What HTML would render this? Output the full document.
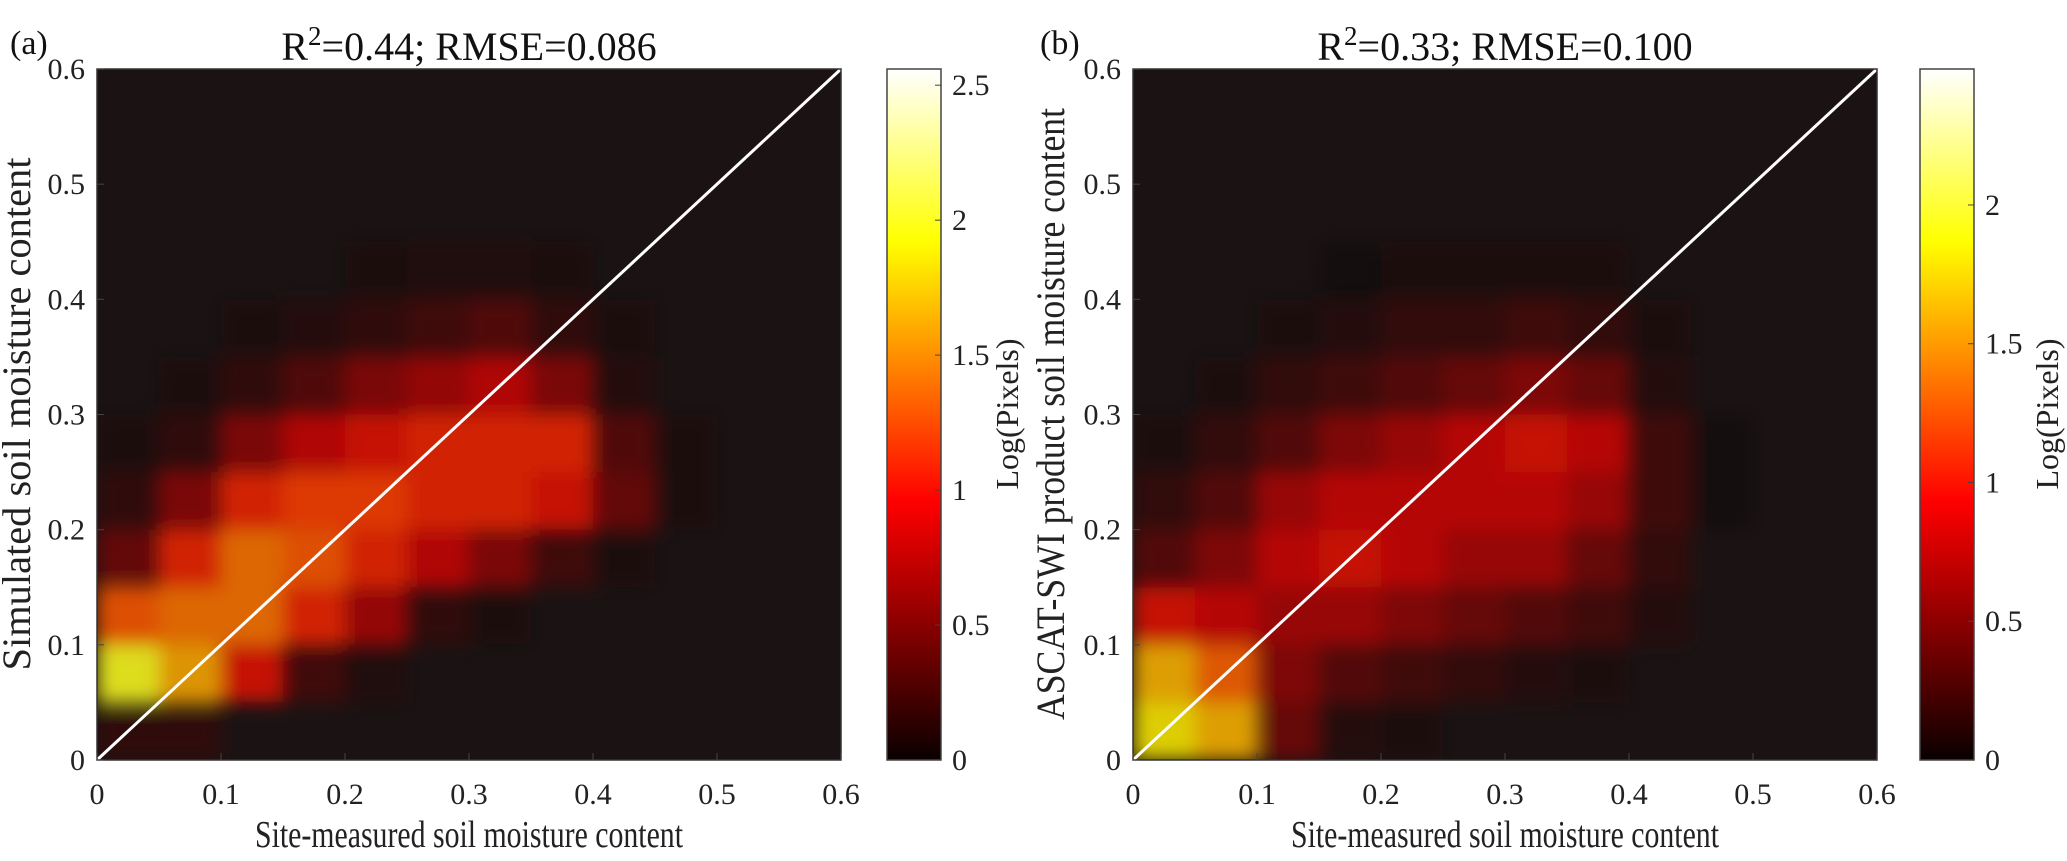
<!DOCTYPE html>
<html><head><meta charset="utf-8"><style>
html,body{margin:0;padding:0;background:#fff;}
svg{display:block;font-family:"Liberation Serif",serif;}
</style></head><body>
<svg id="fig" width="2067" height="861" viewBox="0 0 2067 861" xmlns="http://www.w3.org/2000/svg">
<defs>
<linearGradient id="hotGrad" x1="0" y1="1" x2="0" y2="0">
<stop offset="0" stop-color="#0a0000"/><stop offset="0.375" stop-color="#ff0000"/><stop offset="0.75" stop-color="#ffff00"/><stop offset="1" stop-color="#ffffff"/>
</linearGradient>
<filter id="soft" x="-5%" y="-5%" width="110%" height="110%"><feGaussianBlur stdDeviation="9"/></filter>
<clipPath id="clipA"><rect x="97" y="69" width="744" height="691"/></clipPath>
<clipPath id="clipB"><rect x="1133" y="69" width="744" height="691"/></clipPath>
</defs>
</svg>
<script>
// Density grid (log pixel appearance), rows = y bins of 0.05 from 0, cols = x bins of 0.05 from 0
const binSize = 0.05;
const densityA = [
 [0.3,0.3,0,0,0,0,0,0,0,0,0,0],
 [2.0,1.6,1.0,0.4,0.15,0,0,0,0,0,0,0],
 [1.3,1.4,1.4,1.1,0.8,0.3,0.1,0,0,0,0,0],
 [0.6,1.1,1.4,1.3,1.1,0.9,0.7,0.4,0.1,0,0,0],
 [0.3,0.7,1.1,1.2,1.2,1.1,1.1,1.0,0.6,0.1,0,0],
 [0.1,0.3,0.7,0.9,1.0,1.1,1.1,1.1,0.5,0.1,0,0],
 [0,0.1,0.3,0.5,0.7,0.8,0.9,0.7,0.2,0,0,0],
 [0,0,0.1,0.2,0.3,0.4,0.5,0.3,0.1,0,0,0],
 [0,0,0,0,0.1,0.15,0.15,0.1,0,0,0,0],
 [0,0,0,0,0,0,0,0,0,0,0,0],
 [0,0,0,0,0,0,0,0,0,0,0,0],
 [0,0,0,0,0,0,0,0,0,0,0,0]
];
const densityB = [
 [1.8,1.6,0.6,0.2,0.1,0,0,0,0,0,0,0],
 [1.6,1.3,0.7,0.5,0.4,0.3,0.2,0.1,0,0,0,0],
 [1.0,0.9,0.8,0.8,0.7,0.6,0.5,0.4,0.2,0,0,0],
 [0.5,0.7,0.9,1.0,0.9,0.8,0.8,0.6,0.3,0,0,0],
 [0.3,0.5,0.8,0.9,0.9,0.9,0.9,0.8,0.4,0.05,0,0],
 [0.1,0.3,0.5,0.7,0.8,0.9,1.0,0.9,0.4,0.05,0,0],
 [0,0.1,0.3,0.4,0.5,0.6,0.7,0.6,0.2,0,0,0],
 [0,0,0.1,0.2,0.3,0.3,0.4,0.3,0.1,0,0,0],
 [0,0,0,0.05,0.1,0.1,0.1,0.1,0,0,0,0],
 [0,0,0,0,0,0,0,0,0,0,0,0],
 [0,0,0,0,0,0,0,0,0,0,0,0],
 [0,0,0,0,0,0,0,0,0,0,0,0]
];
const axisTicks = [0,0.1,0.2,0.3,0.4,0.5,0.6];
const axisTickLabels = ["0","0.1","0.2","0.3","0.4","0.5","0.6"];
const cbTicksA = [0,0.5,1,1.5,2,2.5];
const cbTickLabelsA = ["0","0.5","1","1.5","2","2.5"];
const cbTicksB = [0,0.5,1,1.5,2];
const cbTickLabelsB = ["0","0.5","1","1.5","2"];
const cmaxA = 2.56, cmaxB = 2.49;

const NS = "http://www.w3.org/2000/svg";
const svg = document.getElementById('fig');
function mk(tag, attrs, parent){ const e=document.createElementNS(NS,tag); for(const k in attrs) e.setAttribute(k,attrs[k]); (parent||svg).appendChild(e); return e; }
function hot(t){ t=Math.max(0,Math.min(1,t)); const c=v=>Math.round(255*Math.max(0,Math.min(1,v)));
  return `rgb(${Math.max(c(t/0.375),20)},${c((t-0.375)/0.375)},${c((t-0.75)/0.25)})`; }

function panel(o){
  const L=o.left, R=o.left+744, T=69, B=760;
  const sx=v=>L+(v/0.6)*(R-L), sy=v=>B-(v/0.6)*(B-T);
  const g=mk('g',{});  
  const bg=mk('rect',{x:L,y:T,width:R-L,height:B-T,fill:'#1b1313'},g);
   
  const hm=mk('g',{'clip-path':`url(#${o.clip})`},g);
   
  const inner=mk('g',{filter:'url(#soft)'},hm);
  o.data.forEach((row,i)=>row.forEach((v,j)=>{ if(v<=0) return;
    const x0=j*binSize, y0=i*binSize;
    const r=mk('rect',{x:sx(x0),y:sy(y0+binSize),width:sx(x0+binSize)-sx(x0),height:sy(y0)-sy(y0+binSize),fill:hot(v/o.cmax),opacity:Math.min(0.85,0.25+v/2)},inner);
     
  }));
  const dl=mk('line',{x1:sx(0),y1:sy(0),x2:sx(0.6),y2:sy(0.6),stroke:'#fff','stroke-width':3},g);
   
  const fr=mk('rect',{x:L,y:T,width:R-L,height:B-T,fill:'none',stroke:'#333','stroke-width':1.5},g);
   
  axisTicks.forEach((t,k)=>{
    mk('line',{x1:sx(t),y1:B,x2:sx(t),y2:B-7,stroke:'#444','stroke-width':1},g);
    mk('line',{x1:L,y1:sy(t),x2:L+7,y2:sy(t),stroke:'#444','stroke-width':1},g);
    const xl=mk('text',{x:sx(t),y:804,'font-size':30,'text-anchor':'middle',fill:'#222'},g); xl.textContent=axisTickLabels[k];
     
    const yl=mk('text',{x:L-12,y:sy(t)+10,'font-size':30,'text-anchor':'end',fill:'#222'},g); yl.textContent=axisTickLabels[k];
     
  });
  const xt=mk('text',{x:(L+R)/2,y:847,'font-size':38,'text-anchor':'middle',fill:'#222',textLength:428,lengthAdjust:'spacingAndGlyphs'},g); xt.textContent='Site-measured soil moisture content';
   
  const yt=mk('text',{x:0,y:0,'font-size':40,'text-anchor':'middle',fill:'#222',textLength:o.ylabLen,lengthAdjust:'spacingAndGlyphs',transform:`translate(${o.ylabX},414) rotate(-90)`},g); yt.textContent=o.ylabel;
   
  const tt=mk('text',{x:(L+R)/2,y:60,'font-size':40,'text-anchor':'middle',fill:'#111'},g);
  tt.innerHTML=`R<tspan dy="-15" font-size="27">2</tspan><tspan dy="15">=${o.title}</tspan>`;
   
  const pl=mk('text',{x:o.tagX,y:54,'font-size':34,fill:'#111'},g); pl.textContent=o.tag;
   
  // colorbar
  const cx=o.cbX, cw=54;
  const cb=mk('rect',{x:cx,y:T,width:cw,height:B-T,fill:'url(#hotGrad)',stroke:'#444','stroke-width':1.5},g);
   
  const cy=v=>B-(v/o.cmax)*(B-T);
  o.cbTicks.forEach((t,k)=>{
    mk('line',{x1:cx+cw,y1:cy(t),x2:cx+cw-6,y2:cy(t),stroke:'#444','stroke-width':1},g);
    const l=mk('text',{x:cx+cw+11,y:cy(t)+10,'font-size':30,fill:'#222'},g); l.textContent=o.cbLabels[k];
     
  });
  const ct=mk('text',{x:0,y:0,'font-size':32,'text-anchor':'middle',fill:'#222',transform:`translate(${o.cbTitleX},414) rotate(-90)`},g); ct.textContent='Log(Pixels)';
   
}
panel({name:'a',left:97,clip:'clipA',data:densityA,cmax:cmaxA,cbX:887,cbTicks:cbTicksA,cbLabels:cbTickLabelsA,cbTitleX:1018,ylabel:'Simulated soil moisture content',ylabX:30,ylabLen:513,title:'0.44; RMSE=0.086',tag:'(a)',tagX:10});
panel({name:'b',left:1133,clip:'clipB',data:densityB,cmax:cmaxB,cbX:1920,cbTicks:cbTicksB,cbLabels:cbTickLabelsB,cbTitleX:2058,ylabel:'ASCAT-SWI product soil moisture content',ylabX:1064,ylabLen:612,title:'0.33; RMSE=0.100',tag:'(b)',tagX:1040});
</script>
</body></html>
